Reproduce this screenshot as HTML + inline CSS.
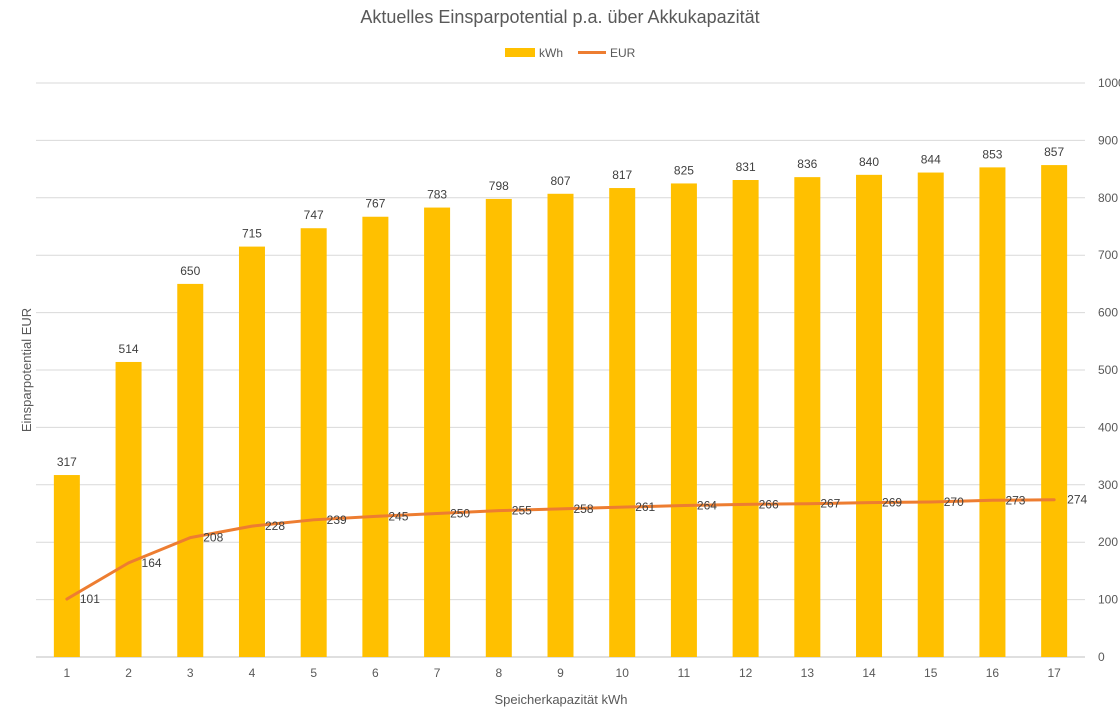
<!DOCTYPE html>
<html><head><meta charset="utf-8"><style>
html,body{margin:0;padding:0;background:#fff;overflow:hidden}
svg{display:block;font-family:"Liberation Sans",sans-serif}
</style></head><body>
<svg id="chart" width="1120" height="707" viewBox="0 0 1120 707">
<text x="560" y="23" text-anchor="middle" font-size="18" fill="#595959">Aktuelles Einsparpotential p.a. über Akkukapazität</text>
<g>
<rect x="505" y="48" width="30" height="9" fill="#FFC000"/>
<text x="539" y="57" font-size="12" fill="#595959">kWh</text>
<line x1="578" y1="52.5" x2="606" y2="52.5" stroke="#ED7D31" stroke-width="3"/>
<text x="610" y="57" font-size="12" fill="#595959">EUR</text>
</g>
<g id="grid"></g><g id="bars"></g><g id="line"></g><g id="labels"></g>
<text transform="translate(31,370) rotate(-90)" text-anchor="middle" font-size="13" fill="#595959">Einsparpotential EUR</text>
<text x="561" y="704" text-anchor="middle" font-size="13" fill="#595959">Speicherkapazität kWh</text>
</svg>
<script>
const categories=[1,2,3,4,5,6,7,8,9,10,11,12,13,14,15,16,17];
const kwhValues=[317,514,650,715,747,767,783,798,807,817,825,831,836,840,844,853,857];
const eurValues=[101,164,208,228,239,245,250,255,258,261,264,266,267,269,270,273,274];
const yTicks=[0,100,200,300,400,500,600,700,800,900,1000];
const NS="http://www.w3.org/2000/svg";
const L=36,R=1085,T=83,B=657,YMAX=1000;
const step=(R-L)/categories.length;
const x=i=>L+step*(i+0.5);
const y=v=>B-(v/YMAX)*(B-T);
function mk(tag,attrs,parent,txt){const e=document.createElementNS(NS,tag);for(const k in attrs)e.setAttribute(k,attrs[k]);if(txt!==undefined)e.textContent=txt;document.getElementById(parent).appendChild(e);return e;}
yTicks.forEach(t=>{
 const g=mk('line',{x1:L,x2:R,y1:y(t),y2:y(t),stroke:t===0?'#bfbfbf':'#d9d9d9','stroke-width':1},'grid');
 
 
 const tl=mk('text',{x:1098,y:y(t)+4,'font-size':12,fill:'#595959'},'grid',String(t));
 
 
});
categories.forEach((c,i)=>{
 const tl=mk('text',{x:x(i),y:677,'text-anchor':'middle','font-size':12,fill:'#595959'},'grid',String(c));
 
 
 const b=mk('rect',{x:x(i)-13,y:y(kwhValues[i]),width:26,height:B-y(kwhValues[i]),fill:'#FFC000'},'bars');
 
 
 const bl=mk('text',{x:x(i),y:y(kwhValues[i])-9,'text-anchor':'middle','font-size':12,fill:'#404040'},'labels',String(kwhValues[i]));
 
 
 const ll=mk('text',{x:x(i)+13,y:y(eurValues[i])+4,'font-size':12,fill:'#404040'},'labels',String(eurValues[i]));
 
 
});
const p=mk('polyline',{points:eurValues.map((v,i)=>x(i)+','+y(v)).join(' '),fill:'none',stroke:'#ED7D31','stroke-width':3,'stroke-linejoin':'round','stroke-linecap':'round'},'line');


</script>
</body></html>
